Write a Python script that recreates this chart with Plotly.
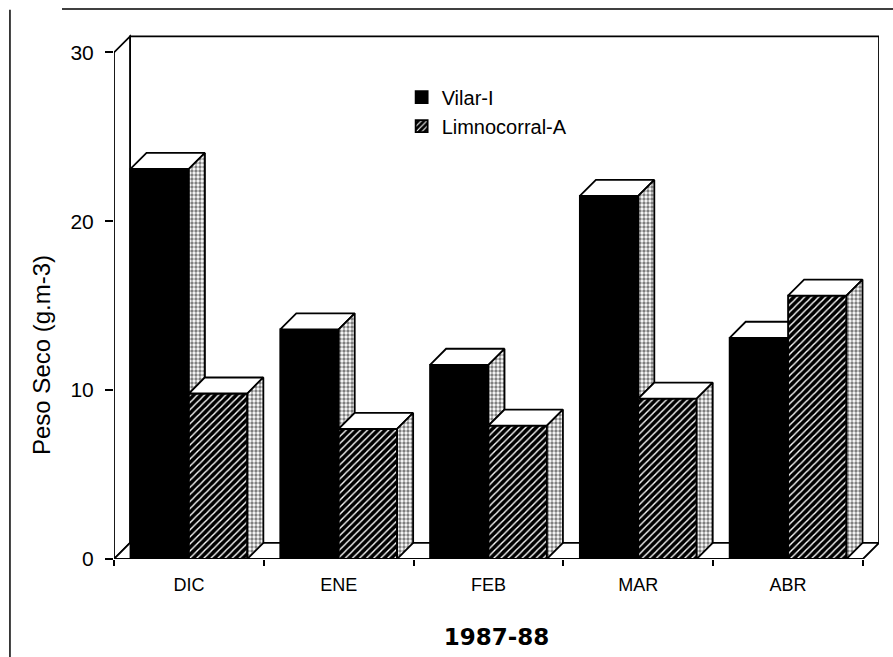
import plotly.graph_objects as go

# ---- data ----
months = ["DIC", "ENE", "FEB", "MAR", "ABR"]
vilar = [23.1, 13.6, 11.5, 21.5, 13.1]
limno = [9.8, 7.7, 7.9, 9.5, 15.6]
y_ticks = [0, 10, 20, 30]
series_names = ["Vilar-I", "Limnocorral-A"]

# ---- geometry / style constants ----
BW = 0.39          # bar width (category units)
DX = 0.107         # 3D depth offset in x (category units)
DY = 0.95          # 3D depth offset in y (value units)
X_RANGE = [-0.5, 4.607]
Y_RANGE = [0, 31.15]
LW = 1.8
FONT = "Liberation Sans, Arial, Helvetica, sans-serif"

xs = list(range(len(months)))
fig = go.Figure()

# front faces of bars
fig.add_trace(go.Bar(
    name=series_names[0], x=xs, y=vilar, width=BW, offset=-BW,
    marker=dict(color="black", line=dict(color="black", width=LW)),
    legendgroup="v",
))
fig.add_trace(go.Bar(
    name=series_names[1], x=xs, y=limno, width=BW, offset=0,
    marker=dict(color="black",
                pattern=dict(shape="/", fgcolor="white", bgcolor="black",
                             size=5, solidity=0.28, fillmode="replace"),
                line=dict(color="black", width=LW)),
    legendgroup="l",
))


def poly(px, py, side=False):
    px = list(px) + [px[0]]
    py = list(py) + [py[0]]
    kw = dict(x=px, y=py, mode="lines", fill="toself", fillcolor="white",
              line=dict(color="black", width=LW), showlegend=False,
              hoverinfo="skip")
    if side:
        kw["fillpattern"] = dict(shape=".", fgcolor="black", bgcolor="white",
                                 size=4, solidity=0.55)
    fig.add_trace(go.Scatter(**kw))


# top and side faces (3D effect), computed from the data values
for i in xs:
    v, l = vilar[i], limno[i]
    x0, x1, x2 = i - BW, i, i + BW
    # Vilar top face (clipped where the Limnocorral bar hides it)
    if l <= v:
        poly([x0, x0 + DX, x1 + DX, x1], [v, v + DY, v + DY, v])
    elif l >= v + DY:
        poly([x0, x0 + DX, x1, x1], [v, v + DY, v + DY, v])
    else:
        xc = x1 + DX * (l - v) / DY
        poly([x0, x0 + DX, x1 + DX, xc, x1, x1], [v, v + DY, v + DY, l, l, v])
    # Vilar side face: visible only above the Limnocorral bar
    if l < v:
        poly([x1, x1, x1 + DX, x1 + DX], [l, v, v + DY, l + DY], side=True)
    # Limnocorral top and side faces
    poly([x1, x1 + DX, x2 + DX, x2], [l, l + DY, l + DY, l])
    poly([x2, x2, x2 + DX, x2 + DX], [0, l, l + DY, DY], side=True)

ymax = y_ticks[-1]
xl, xr = -0.5, len(months) - 0.5
shapes = [
    # back wall
    dict(type="rect", xref="x", yref="y", x0=xl + DX, x1=xr + DX, y0=DY, y1=ymax + DY,
         line=dict(color="black", width=LW), fillcolor="white", layer="below"),
    # left wall
    dict(type="path", xref="x", yref="y",
         path=f"M {xl},0 L {xl},{ymax} L {xl + DX},{ymax + DY} L {xl + DX},{DY} Z",
         line=dict(color="black", width=LW), fillcolor="white", layer="below"),
    # floor
    dict(type="path", xref="x", yref="y",
         path=f"M {xl},0 L {xr},0 L {xr + DX},{DY} L {xl + DX},{DY} Z",
         line=dict(color="black", width=LW), fillcolor="white", layer="below"),
    # scan border lines of the page
    dict(type="line", xref="paper", yref="paper", x0=-0.068, x1=1.02, y0=1.0456, y1=1.0456,
         line=dict(color="black", width=1.3)),
    dict(type="line", xref="paper", yref="paper", x0=-0.136, x1=-0.136, y0=1.044, y1=-0.19,
         line=dict(color="black", width=1.5)),
]

fig.update_layout(
    width=893, height=657,
    margin=dict(l=114, r=14, t=33, b=98),
    paper_bgcolor="white", plot_bgcolor="white",
    font=dict(family=FONT, color="black"),
    barmode="overlay",
    shapes=shapes,
    showlegend=True,
    legend=dict(x=0.376, y=0.915, xanchor="left", yanchor="top",
                bgcolor="rgba(0,0,0,0)", font=dict(size=20),
                tracegroupgap=12, traceorder="normal"),
    annotations=[dict(text="Peso Seco (g.m-3)", textangle=-90,
                      xref="paper", yref="paper", x=(41 - 114) / 765,
                      y=(559 - 355) / 526, showarrow=False,
                      font=dict(size=24), xanchor="center", yanchor="middle")],
)
fig.update_xaxes(
    range=X_RANGE, tickvals=xs, ticktext=months, ticks="",
    showgrid=False, zeroline=False, showline=False,
    tickfont=dict(size=18), ticklabelstandoff=13,
    minor=dict(tickmode="linear", tick0=-0.5, dtick=1, ticks="outside",
               ticklen=6, tickwidth=1.5, tickcolor="black", showgrid=False),
    title=dict(text="<b>1987-88</b>",
               font=dict(size=23, family="DejaVu Sans, Liberation Sans, sans-serif"),
               standoff=34),
)
fig.update_yaxes(
    range=Y_RANGE, tickvals=y_ticks, ticks="outside", ticklen=8, tickwidth=1.5,
    tickcolor="black", showgrid=False, zeroline=False, showline=False,
    tickfont=dict(size=21), ticklabelstandoff=7,
)

fig.write_html("out.html", config={"displayModeBar": False},
               post_script="document.body.style.margin='0';")
